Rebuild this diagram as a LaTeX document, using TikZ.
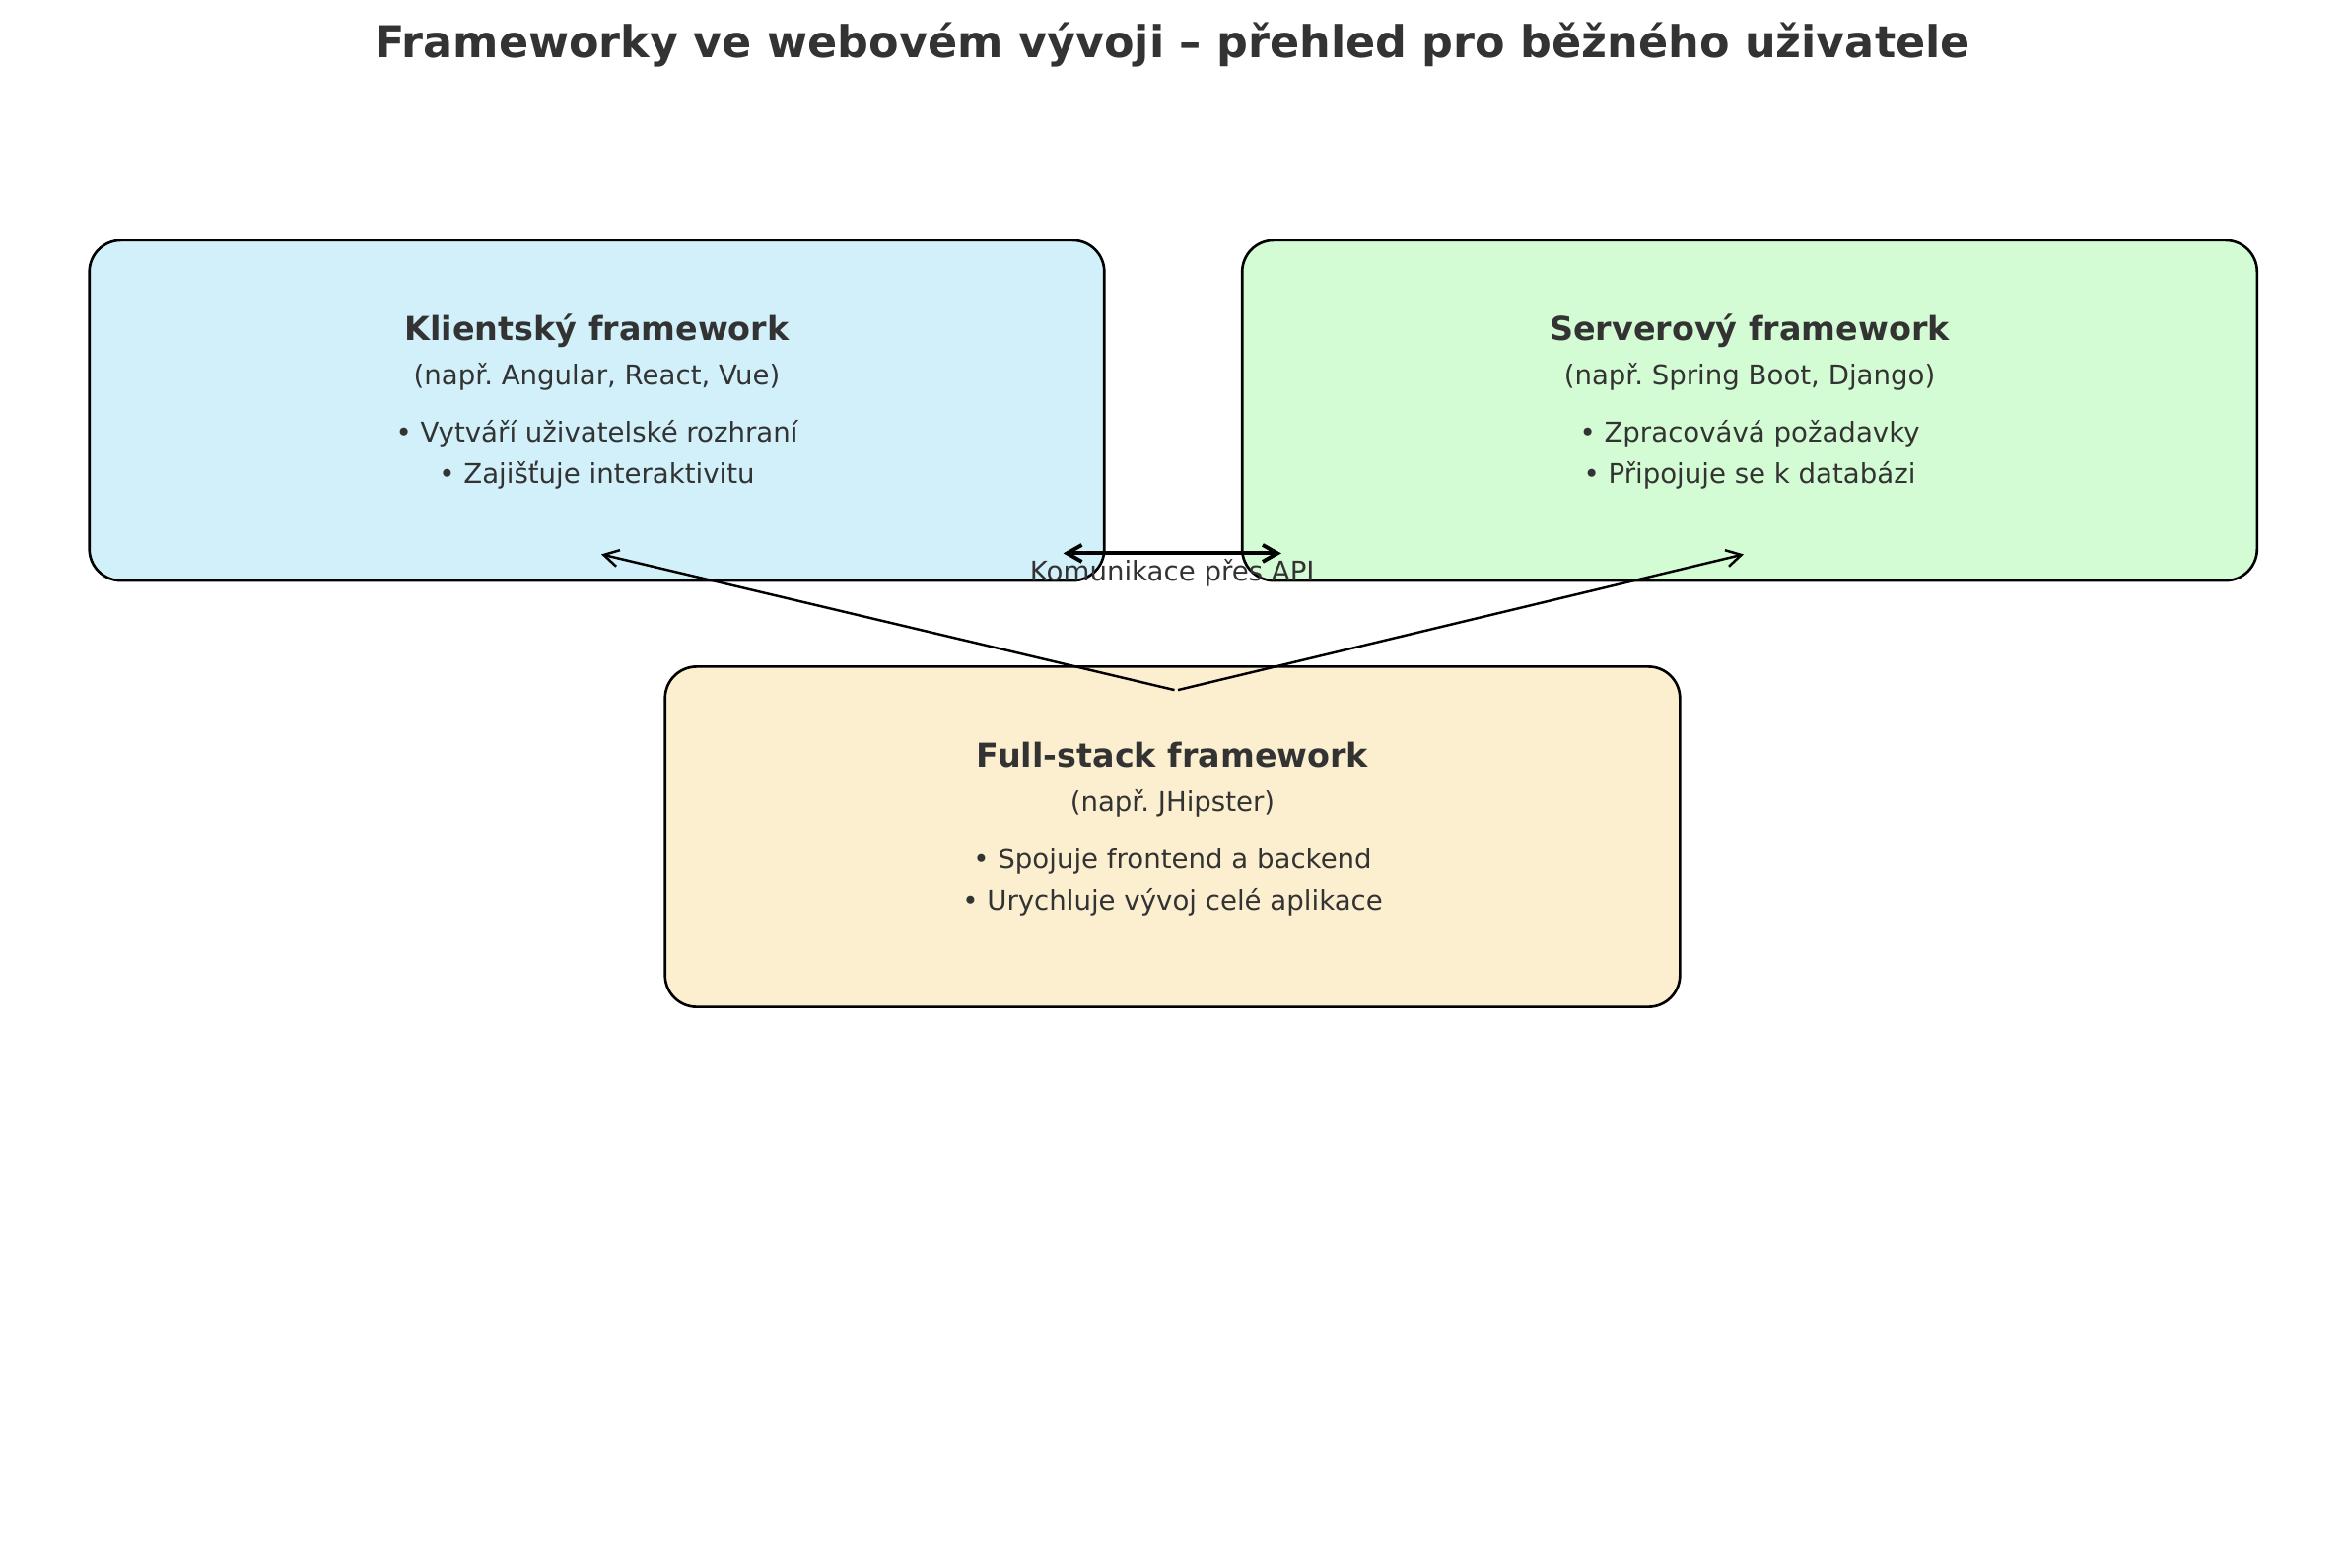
\documentclass[tikz,border=0pt]{standalone}
\usepackage{fontspec}
\setmainfont{DejaVu Sans}
\usetikzlibrary{arrows.meta,positioning}
\definecolor{clientblue}{HTML}{D1F0FA}
\definecolor{servergreen}{HTML}{D4FCD4}
\definecolor{fullbeige}{HTML}{FCEFD0}
\definecolor{txtgray}{HTML}{333333}
\frenchspacing

\begin{document}
\begin{tikzpicture}[x=0.01cm, y=-0.01cm,
    box/.style={draw, line width=0.75pt, rounded corners=0.32cm, minimum width=10.29cm, minimum height=3.45cm, inner sep=0pt},
    head/.style={anchor=base, inner sep=0pt, text=txtgray, font=\bfseries\fontsize{9.5}{11}\selectfont},
    sub/.style={anchor=base, inner sep=0pt, text=txtgray, font=\fontsize{7.85}{9.4}\selectfont},
    arr/.style={-{Straight Barb[length=1.5mm,width=1.7mm]}, line width=0.7pt},
    dblarr/.style={{Straight Barb[length=1.5mm,width=1.7mm]}-{Straight Barb[length=1.5mm,width=1.7mm]}, line width=1.1pt}
]
\useasboundingbox (0,0) rectangle (2379,1590);
\node[anchor=base, inner sep=0pt, text=txtgray, font=\bfseries\fontsize{12.65}{15}\selectfont] (title) at (1189.5,58) {Frameworky ve webovém vývoji – přehled pro běžného uživatele};

\node[box, fill=clientblue] (client) at (605.5,416.5) {};
\node[box, fill=servergreen] (server) at (1775,416.5) {};
\node[box, fill=fullbeige] (full) at (1189.5,849) {};

\node[head] (clienthead) at ([yshift=-1.03cm]client.north) {Klientský framework};
\node[sub] (clientsub) at ([yshift=-1.48cm]client.north) {(např. Angular, React, Vue)};
\node[sub] (clientone) at ([yshift=-2.06cm]client.north) {• Vytváří uživatelské rozhraní};
\node[sub] (clienttwo) at ([yshift=-2.48cm]client.north) {• Zajišťuje interaktivitu};

\node[head] (serverhead) at ([yshift=-1.03cm]server.north) {Serverový framework};
\node[sub] (serversub) at ([yshift=-1.48cm]server.north) {(např. Spring Boot, Django)};
\node[sub] (serverone) at ([yshift=-2.06cm]server.north) {• Zpracovává požadavky};
\node[sub] (servertwo) at ([yshift=-2.48cm]server.north) {• Připojuje se k databázi};

\node[head] (fullhead) at ([yshift=-1.03cm]full.north) {Full-stack framework};
\node[sub] (fullsub) at ([yshift=-1.48cm]full.north) {(např. JHipster)};
\node[sub] (fullone) at ([yshift=-2.06cm]full.north) {• Spojuje frontend a backend};
\node[sub] (fulltwo) at ([yshift=-2.48cm]full.north) {• Urychluje vývoj celé aplikace};

\coordinate (fullleft) at ([xshift=0.02cm,yshift=-0.25cm]full.north);
\coordinate (fullright) at ([xshift=0.055cm,yshift=-0.25cm]full.north);
\coordinate (clientend) at ([xshift=0.045cm,yshift=0.28cm]client.south);
\coordinate (serverend) at ([xshift=-0.06cm,yshift=0.28cm]server.south);
\coordinate (apileft) at ([xshift=-0.43cm,yshift=0.29cm]client.south east);
\coordinate (apiright) at ([xshift=0.41cm,yshift=0.29cm]server.south west);

\draw[arr] (fullleft) -- (clientend);
\draw[arr] (fullright) -- (serverend);
\draw[dblarr] (apileft) -- (apiright);
\path (apileft) -- node[sub, anchor=center, yshift=-0.2cm] (api) {Komunikace přes API} (apiright);
\end{tikzpicture}
\end{document}
